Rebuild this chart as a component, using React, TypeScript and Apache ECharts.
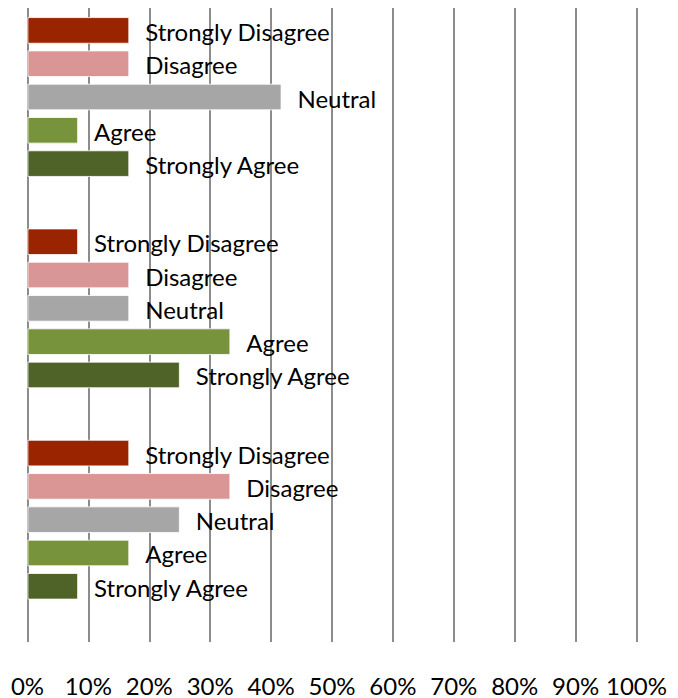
import React, { useEffect, useRef } from "react";
import * as echarts from "echarts";

const categories = ["Group 1", "Group 2", "Group 3"];
const seriesNames = ["Strongly Disagree", "Disagree", "Neutral", "Agree", "Strongly Agree"];
const stronglyDisagree = [16.7, 8.3, 16.7];
const disagree = [16.7, 16.7, 33.3];
const neutral = [41.7, 16.7, 25];
const agree = [8.3, 33.3, 16.7];
const stronglyAgree = [16.7, 25, 8.3];
const colors = ["#9a2400", "#d99694", "#a6a6a6", "#77933c", "#4f6228"];

export default function App() {
  const ref = useRef<HTMLDivElement>(null);
  useEffect(() => {
    if (!ref.current) return;
    const chart = echarts.init(ref.current, null, { renderer: "svg" });
    const values = [stronglyDisagree, disagree, neutral, agree, stronglyAgree];
    const font = "Lato, 'Noto Sans', sans-serif";
    const series: any[] = values.map((v, i) => ({
      name: seriesNames[i],
      type: "bar",
      data: v,
      barGap: "26%",
      barCategoryGap: "8.7%",
      itemStyle: { color: colors[i], borderColor: "#ffffff", borderWidth: 0.8 },
      label: {
        show: true,
        position: "right",
        distance: 16,
        formatter: "{a}",
        fontFamily: font,
        fontSize: 24,
        color: "#000000",
        offset: [0, 1],
      },
    }));
    series.push({
      name: "",
      type: "bar",
      data: [null, null, null],
      barGap: "26%",
      barCategoryGap: "8.7%",
      label: { show: false },
    });
    chart.setOption({
      animation: false,
      grid: { left: 27.5, right: 41.5, top: 8, bottom: 56, containLabel: false },
      xAxis: {
        type: "value",
        min: 0,
        max: 100,
        interval: 10,
        axisLine: { show: false },
        axisTick: { show: false },
        axisLabel: {
          formatter: "{value}%",
          fontFamily: font,
          fontSize: 24,
          color: "#000000",
          margin: 31,
        },
        splitLine: { show: true, lineStyle: { color: "#8c8c8c", width: 2 } },
      },
      yAxis: {
        type: "category",
        data: categories,
        inverse: true,
        axisLine: { show: false },
        axisTick: { show: false },
        axisLabel: { show: false },
        splitLine: { show: false },
      },
      series,
    });
    return () => chart.dispose();
  }, []);
  return (
    <div
      ref={ref}
      style={{ position: "fixed", left: 0, top: 0, width: 678, height: 698, background: "#ffffff" }}
    />
  );
}
